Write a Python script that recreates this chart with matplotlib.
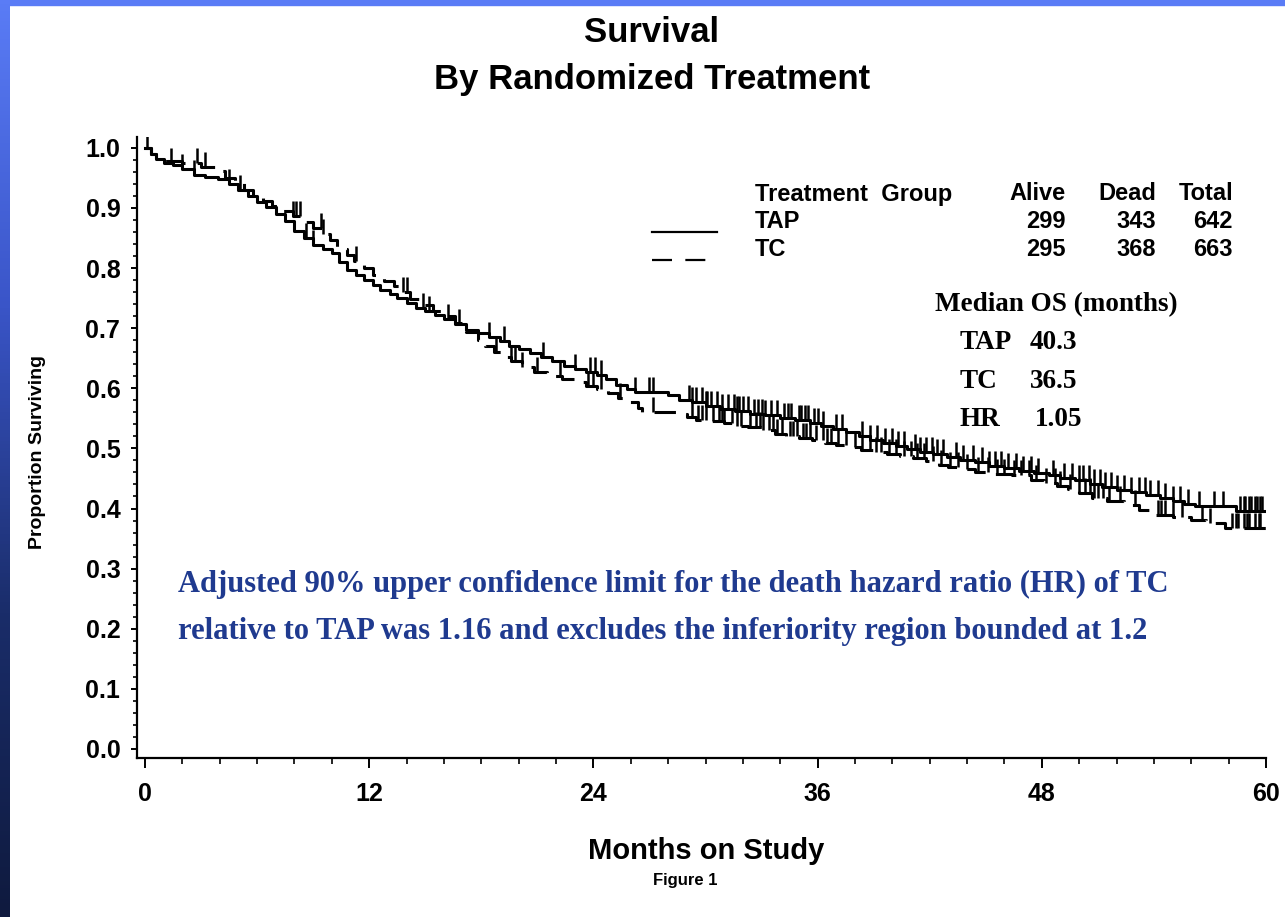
import numpy as np
import matplotlib
matplotlib.use("Agg")
import matplotlib.pyplot as plt
from matplotlib.lines import Line2D
from matplotlib.patches import Rectangle

# Kaplan-Meier step curves (months, proportion surviving)
tap_t = [0, 0.3, 0.6, 1.0, 1.5, 2.0, 2.6, 3.2, 3.9, 4.5, 5.0, 5.5, 6.0, 6.5, 7.0, 7.5,
         8.0, 8.5, 9.0, 9.5, 10.0, 10.4, 10.8, 11.3, 11.7, 12.2, 12.6, 13.1, 13.5, 14.0,
         14.5, 15.0, 15.5, 16.0, 16.6, 17.2, 17.8, 18.4, 19.0, 19.5, 20.0, 20.6, 21.2,
         21.8, 22.4, 23.0, 23.6, 24.2, 24.7, 25.2, 25.8, 26.2, 28.0, 28.6, 29.3, 30.0,
         30.8, 31.6, 32.4, 33.2, 34.0, 34.8, 35.6, 36.2, 36.8, 37.5, 38.2, 38.8, 39.5,
         40.2, 40.8, 41.5, 42.2, 42.9, 43.6, 44.4, 45.2, 46.0, 46.8, 47.6, 48.4, 49.0,
         49.8, 50.6, 51.2, 52.0, 52.8, 53.6, 54.3, 55.0, 55.6, 56.2, 58.4, 60.0]
tap_s = [1.0, 0.99, 0.982, 0.975, 0.972, 0.965, 0.955, 0.952, 0.948, 0.94, 0.93, 0.92,
         0.91, 0.902, 0.89, 0.878, 0.862, 0.85, 0.838, 0.832, 0.825, 0.81, 0.797, 0.788,
         0.78, 0.772, 0.764, 0.757, 0.75, 0.742, 0.733, 0.728, 0.722, 0.716, 0.707, 0.697,
         0.692, 0.686, 0.678, 0.671, 0.665, 0.659, 0.652, 0.645, 0.637, 0.632, 0.627,
         0.622, 0.616, 0.605, 0.598, 0.593, 0.588, 0.581, 0.577, 0.571, 0.566, 0.562,
         0.558, 0.555, 0.551, 0.547, 0.543, 0.537, 0.532, 0.527, 0.52, 0.514, 0.509,
         0.504, 0.499, 0.494, 0.49, 0.486, 0.481, 0.477, 0.471, 0.467, 0.463, 0.459,
         0.455, 0.451, 0.447, 0.441, 0.435, 0.431, 0.427, 0.423, 0.418, 0.413, 0.408,
         0.404, 0.396, 0.396]

tc_t = [0, 0.3, 0.6, 1.0, 2.0, 3.0, 3.8, 4.3, 4.8, 5.3, 5.8, 6.3, 6.8, 7.4, 7.9, 8.5,
        9.0, 9.5, 9.9, 10.3, 10.8, 11.2, 11.7, 12.2, 12.8, 13.3, 13.7, 14.2, 14.8, 15.4,
        16.0, 16.6, 17.2, 17.8, 18.2, 18.7, 19.2, 19.6, 20.2, 20.8, 21.5, 22.3, 23.0,
        23.6, 24.2, 24.8, 25.3, 25.8, 26.4, 26.6, 28.5, 29.0, 29.5, 30.3, 31.0, 31.6,
        32.3, 33.0, 33.7, 34.3, 35.0, 35.7, 36.4, 37.0, 37.6, 38.3, 39.0, 39.7, 40.4,
        41.1, 41.8, 42.5, 43.0, 43.7, 44.4, 45.4, 46.4, 47.4, 48.1, 48.8, 49.4, 50.0,
        50.7, 51.5, 52.4, 53.2, 54.0, 55.0, 56.0, 56.8, 57.8, 60.0]
tc_s = [1.0, 0.99, 0.982, 0.978, 0.975, 0.968, 0.962, 0.95, 0.942, 0.93, 0.922, 0.912,
        0.904, 0.895, 0.886, 0.876, 0.866, 0.856, 0.846, 0.832, 0.822, 0.812, 0.8, 0.788,
        0.778, 0.77, 0.76, 0.748, 0.738, 0.728, 0.72, 0.708, 0.694, 0.68, 0.67, 0.66,
        0.652, 0.645, 0.635, 0.627, 0.62, 0.616, 0.61, 0.604, 0.598, 0.592, 0.584, 0.578,
        0.568, 0.561, 0.558, 0.552, 0.547, 0.546, 0.542, 0.538, 0.535, 0.53, 0.524, 0.52,
        0.517, 0.514, 0.509, 0.505, 0.502, 0.498, 0.494, 0.49, 0.487, 0.484, 0.479,
        0.473, 0.469, 0.466, 0.46, 0.457, 0.455, 0.448, 0.442, 0.437, 0.433, 0.426,
        0.418, 0.412, 0.406, 0.398, 0.39, 0.386, 0.381, 0.376, 0.368, 0.368]

# censoring times (tick marks)
tap_cens = [0.1, 1.4, 2.0, 2.6, 4.5, 5.1, 8.6, 9.0, 14.9, 15.2, 16.2, 16.8, 18.4, 19.2,
            21.3, 23.0, 23.8, 24.1, 24.4, 26.2, 27.0, 27.2, 29.1, 29.3, 29.5, 29.8, 30.0,
            30.1, 30.3, 30.6, 30.9, 31.2, 31.5, 31.7, 31.8, 32.0, 32.3, 32.6, 32.8, 33.0,
            33.2, 33.5, 33.8, 34.2, 34.4, 34.6, 35.0, 35.1, 35.3, 35.5, 35.8, 36.0, 36.3,
            37.0, 37.3, 38.4, 38.8, 39.2, 39.6, 40.0, 40.3, 40.6, 41.2, 41.5, 41.8, 42.1,
            42.4, 42.7, 43.4, 43.8, 44.3, 44.8, 45.2, 45.5, 45.8, 46.2, 46.6, 47.0, 47.4,
            47.8, 48.6, 49.2, 49.6, 50.0, 50.2, 50.5, 50.8, 51.1, 51.4, 51.7, 52.0, 52.4,
            52.8, 53.2, 53.5, 53.8, 54.2, 54.6, 55.0, 55.4, 55.8, 56.4, 57.2, 57.7, 58.6,
            58.8, 58.9, 59.1, 59.2, 59.4, 59.5, 59.7, 59.8]
tc_cens = [2.8, 3.2, 7.9, 8.1, 8.3, 9.4, 9.5, 11.3, 13.8, 14.0, 18.8, 19.6, 19.8, 20.2,
           21.0, 22.2, 23.7, 24.0, 24.4, 25.4, 27.2, 29.3, 29.6, 29.8, 30.0, 30.4, 30.7,
           30.9, 31.0, 31.4, 31.7, 31.9, 32.4, 32.7, 32.9, 33.1, 33.4, 33.6, 33.8, 34.1,
           34.5, 34.7, 34.9, 35.2, 35.4, 35.6, 35.9, 36.3, 36.5, 36.7, 37.1, 37.5, 38.0,
           38.4, 38.8, 39.1, 39.4, 39.8, 40.2, 40.6, 41.0, 41.3, 41.7, 42.2, 42.6, 43.1,
           43.5, 44.0, 44.6, 45.1, 45.6, 46.0, 46.5, 46.9, 47.3, 47.7, 48.2, 48.7, 49.0,
           49.5, 50.0, 50.3, 50.6, 50.8, 51.0, 51.3, 51.6, 52.2, 53.0, 54.2, 54.4, 54.6,
           55.0, 55.5, 56.6, 57.0, 58.2, 58.4, 58.5, 58.8, 59.0, 59.1, 59.4, 59.6, 59.7]

groups = ["TAP", "TC"]
alive = [299, 295]
dead = [343, 368]
total = [642, 663]
median_os = ["40.3", "36.5"]
hr = "1.05"

W, H = 1285, 917
fig = plt.figure(figsize=(W / 100, H / 100), dpi=100)
fig.patch.set_facecolor("white")

def fx(px):
    return px / W

def fy(py):
    return 1 - py / H

# blue slide frame: gradient on the left, light strip on top
band = fig.add_axes([0, 0, fx(10), 1])
band.imshow(np.linspace(0, 1, 256).reshape(-1, 1), aspect="auto",
            cmap=matplotlib.colors.LinearSegmentedColormap.from_list(
                "frame", ["#5a7cf6", "#3a55c8", "#1a2d6a", "#0f1a3e"]),
            extent=[0, 1, 0, 1])
band.set_axis_off()
fig.add_artist(Rectangle((0, fy(5)), 1, fy(0) - fy(5), transform=fig.transFigure,
                         color="#5a7cf6", zorder=0))

sans = "Liberation Sans"
serif = "Liberation Serif"

ax = fig.add_axes([fx(137), fy(758), fx(1266) - fx(137), fy(137) - fy(758)])
ax.set_xlim(-0.43, 60)
ax.set_ylim(-0.015, 1.018)

ax.step(tap_t, tap_s, where="post", color="black", lw=2.2)
ax.step(tc_t, tc_s, where="post", color="black", lw=2.2, dashes=(7, 4))

for ct, tt, ss in [(tap_cens, tap_t, tap_s), (tc_cens, tc_t, tc_s)]:
    idx = np.searchsorted(tt, ct, side="right") - 1
    base = np.array(ss)[idx]
    ax.vlines(ct, base, base + 0.025, color="black", lw=1.8)

for s in ["top", "right"]:
    ax.spines[s].set_visible(False)
for s in ["left", "bottom"]:
    ax.spines[s].set_linewidth(1.6)

ax.set_xticks(np.arange(0, 61, 12))
ax.set_xticks(np.arange(0, 61, 2), minor=True)
ax.set_yticks(np.arange(0, 1.01, 0.1))
ax.set_yticks(np.arange(0, 1.001, 0.02), minor=True)
ax.set_yticklabels([f"{v:.1f}" for v in np.arange(0, 1.01, 0.1)])
ax.tick_params(axis="x", which="major", length=7, width=1.4, pad=10)
ax.tick_params(axis="x", which="minor", length=4, width=1.2)
ax.tick_params(axis="y", which="major", length=4, width=1.4, pad=8)
ax.tick_params(axis="y", which="minor", length=3, width=1.2)
for lab in ax.get_xticklabels() + ax.get_yticklabels():
    lab.set_fontfamily(sans)
    lab.set_fontweight("bold")
    lab.set_fontsize(18)

fig.text(fx(652), fy(33), "Survival", ha="center", va="center",
         fontfamily=sans, fontsize=25, fontweight="bold")
fig.text(fx(652), fy(80), "By Randomized Treatment", ha="center", va="center",
         fontfamily=sans, fontsize=25, fontweight="bold")
fig.text(fx(706), fy(851), "Months on Study", ha="center", va="center",
         fontfamily=sans, fontsize=21, fontweight="bold")
fig.text(fx(38), fy(452), "Proportion Surviving", ha="center", va="center",
         rotation=90, fontfamily=sans, fontsize=14, fontweight="bold")
fig.text(fx(685), fy(880), "Figure 1", ha="center", va="center",
         fontfamily=sans, fontsize=12, fontweight="bold")

# legend table
tab_kw = dict(fontfamily=sans, fontsize=17, fontweight="bold", va="center")
fig.text(fx(755), fy(194), "Treatment  Group", ha="left", **tab_kw)
fig.text(fx(1066), fy(194), "Alive", ha="right", **tab_kw)
fig.text(fx(1156), fy(194), "Dead", ha="right", **tab_kw)
fig.text(fx(1233), fy(194), "Total", ha="right", **tab_kw)
row_y = [222, 250]
line_dash = [None, (9, 6)]
for g, a, d, t, ry, ds in zip(groups, alive, dead, total, row_y, line_dash):
    fig.text(fx(755), fy(ry), g, ha="left", **tab_kw)
    fig.text(fx(1066), fy(ry), str(a), ha="right", **tab_kw)
    fig.text(fx(1156), fy(ry), str(d), ha="right", **tab_kw)
    fig.text(fx(1233), fy(ry), str(t), ha="right", **tab_kw)
    ln = Line2D([fx(652), fx(717)], [fy(ry + 10), fy(ry + 10)], transform=fig.transFigure,
                color="black", lw=1.6)
    if ds:
        ln.set_dashes(ds)
    fig.add_artist(ln)

med_kw = dict(fontfamily=serif, fontsize=19.5, fontweight="bold", va="center", color="black")
fig.text(fx(935), fy(305), "Median OS (months)", ha="left", **med_kw)
for g, m, ry in zip(groups, median_os, [342, 381]):
    fig.text(fx(960), fy(ry), g, ha="left", **med_kw)
    fig.text(fx(1030), fy(ry), m, ha="left", **med_kw)
fig.text(fx(960), fy(420), "HR", ha="left", **med_kw)
fig.text(fx(1035), fy(420), hr, ha="left", **med_kw)

note_kw = dict(fontfamily=serif, fontsize=22, fontweight="bold", va="center",
               color="#1f3a8f", ha="left")
fig.text(fx(178), fy(584), "Adjusted 90% upper confidence limit for the death hazard ratio (HR) of TC", **note_kw)
fig.text(fx(178), fy(631), "relative to TAP was 1.16 and excludes the inferiority region bounded at 1.2", **note_kw)

fig.savefig("out.png", dpi=100, facecolor=fig.get_facecolor())
